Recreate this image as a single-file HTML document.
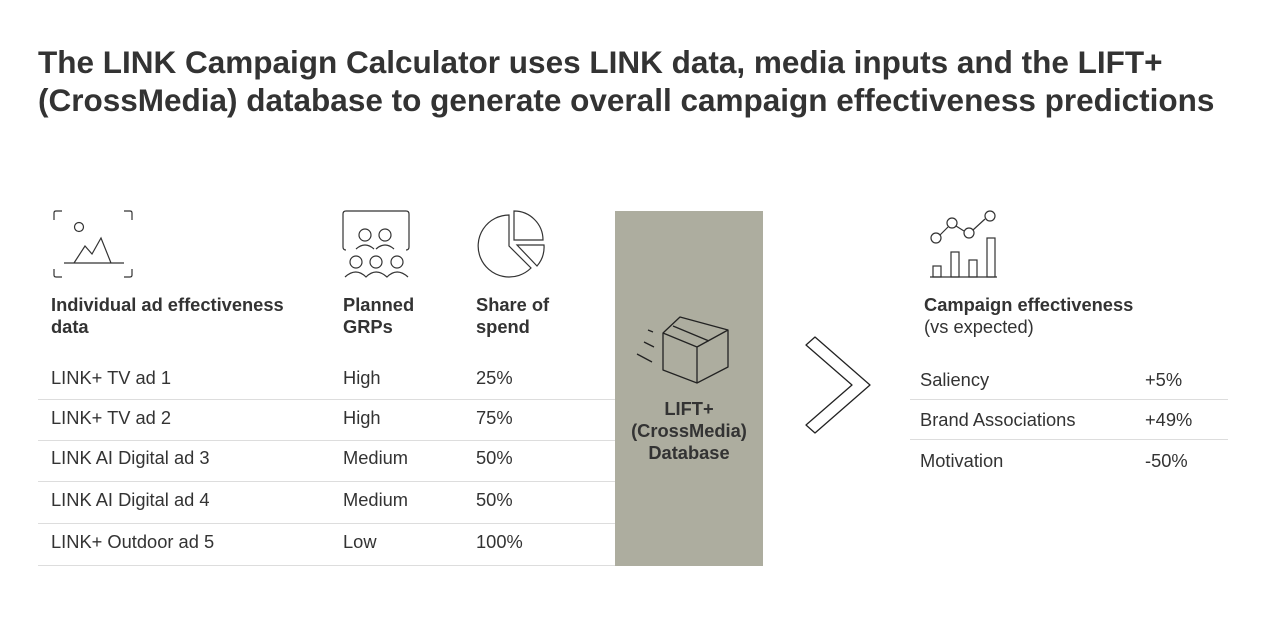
<!DOCTYPE html>
<html><head><meta charset="utf-8"><style>
body{margin:0;width:1265px;height:627px;background:#fff;position:relative;overflow:hidden;font-family:"Liberation Sans",Arial,sans-serif;color:#333}
.a{position:absolute;white-space:nowrap}
.t{font-size:31.5px;font-weight:bold;color:#333;left:38px;line-height:38px}
.h{font-size:18.3px;font-weight:bold;line-height:22px;color:#333}
.r{font-size:18.3px;line-height:20px;color:#333}
.l{position:absolute;height:1px;background:#ddd}
</style></head><body>
<div class="a t" style="top:43px">The LINK Campaign Calculator uses LINK data, media inputs and the LIFT+</div>
<div class="a t" style="top:81px">(CrossMedia) database to generate overall campaign effectiveness predictions</div>

<svg class="a" style="left:0;top:0" width="1265" height="627" fill="none" stroke="#333" stroke-width="1.2">
<path d="M54 220v-7q0-2 2-2h6M124 211h6q2 0 2 2v7M54 269v6q0 2 2 2h6M124 277h6q2 0 2-2v-6"/>
<circle cx="79" cy="227" r="4.5"/>
<path d="M64 263h60M74 263l11-17 7 8 9-16 10 25"/>
<path d="M346 250q-3 0-3-3v-33q0-3 3-3h60q3 0 3 3v33q0 3-3 3"/>
<circle cx="365" cy="235" r="6"/><circle cx="385" cy="235" r="6"/>
<path d="M356 249q9-8 18 0M376 249q9-8 18 0"/>
<circle cx="356" cy="262" r="6"/><circle cx="376" cy="262" r="6"/><circle cx="397" cy="262" r="6"/>
<path d="M345 277q11-10 21 0q10-10 21 0q10-10 21 0"/>
<path d="M509 215a31 31 0 1 0 22 53l-22-22z"/>
<path d="M514 211a29 29 0 0 1 29 29h-29z"/>
<path d="M517 245h27a29 29 0 0 1-7 21z"/>
<path d="M930 277h67"/>
<rect x="933" y="266" width="8" height="11"/><rect x="951" y="252" width="8" height="25"/><rect x="969" y="260" width="8" height="17"/><rect x="987" y="238" width="8" height="39"/>
<circle cx="936" cy="238" r="5"/><circle cx="952" cy="223" r="5"/><circle cx="969" cy="233" r="5"/><circle cx="990" cy="216" r="5"/>
<path d="M940 235l8-8M956 226l8 5M973 230l12-11"/>
</svg>

<div class="a" style="left:615px;top:211px;width:148px;height:355px;background:#adad9f"></div>
<svg class="a" style="left:615px;top:211px" width="148" height="200" fill="none" stroke="#222" stroke-width="1.3" stroke-linejoin="round">
<path d="M48 122l17-16 48 13v37l-31 16-34-13z"/>
<path d="M48 122l34 14 31-17M82 136v36M58 115l36 15"/>
<path d="M33 119l5 2M29 131l10 5M22 143l15 8"/>
</svg>
<div class="a h" style="left:615px;top:398px;width:148px;text-align:center;white-space:normal">LIFT+<br>(CrossMedia)<br>Database</div>

<svg class="a" style="left:800px;top:330px" width="80" height="110" fill="none" stroke="#222" stroke-width="1.3" stroke-linejoin="round">
<path d="M6 15l9-8 55 48-55 48-9-8 46-40z"/>
</svg>

<div class="a h" style="left:51px;top:294px">Individual ad effectiveness<br>data</div>
<div class="a h" style="left:343px;top:294px">Planned<br>GRPs</div>
<div class="a h" style="left:476px;top:294px">Share of<br>spend</div>
<div class="a h" style="left:924px;top:294px">Campaign effectiveness<br><span style="font-weight:normal">(vs expected)</span></div>

<div class="a r" style="left:51px;top:368px">LINK+ TV ad 1</div><div class="a r" style="left:343px;top:368px">High</div><div class="a r" style="left:476px;top:368px">25%</div>
<div class="a r" style="left:51px;top:408px">LINK+ TV ad 2</div><div class="a r" style="left:343px;top:408px">High</div><div class="a r" style="left:476px;top:408px">75%</div>
<div class="a r" style="left:51px;top:448px">LINK AI Digital ad 3</div><div class="a r" style="left:343px;top:448px">Medium</div><div class="a r" style="left:476px;top:448px">50%</div>
<div class="a r" style="left:51px;top:490px">LINK AI Digital ad 4</div><div class="a r" style="left:343px;top:490px">Medium</div><div class="a r" style="left:476px;top:490px">50%</div>
<div class="a r" style="left:51px;top:532px">LINK+ Outdoor ad 5</div><div class="a r" style="left:343px;top:532px">Low</div><div class="a r" style="left:476px;top:532px">100%</div>
<div class="l" style="left:38px;width:577px;top:399px"></div>
<div class="l" style="left:38px;width:577px;top:440px"></div>
<div class="l" style="left:38px;width:577px;top:481px"></div>
<div class="l" style="left:38px;width:577px;top:523px"></div>
<div class="l" style="left:38px;width:577px;top:565px"></div>

<div class="a r" style="left:920px;top:370px">Saliency</div><div class="a r" style="left:1145px;top:370px">+5%</div>
<div class="a r" style="left:920px;top:410px">Brand Associations</div><div class="a r" style="left:1145px;top:410px">+49%</div>
<div class="a r" style="left:920px;top:451px">Motivation</div><div class="a r" style="left:1145px;top:451px">-50%</div>
<div class="l" style="left:910px;width:318px;top:399px"></div>
<div class="l" style="left:910px;width:318px;top:439px"></div>
</body></html>
